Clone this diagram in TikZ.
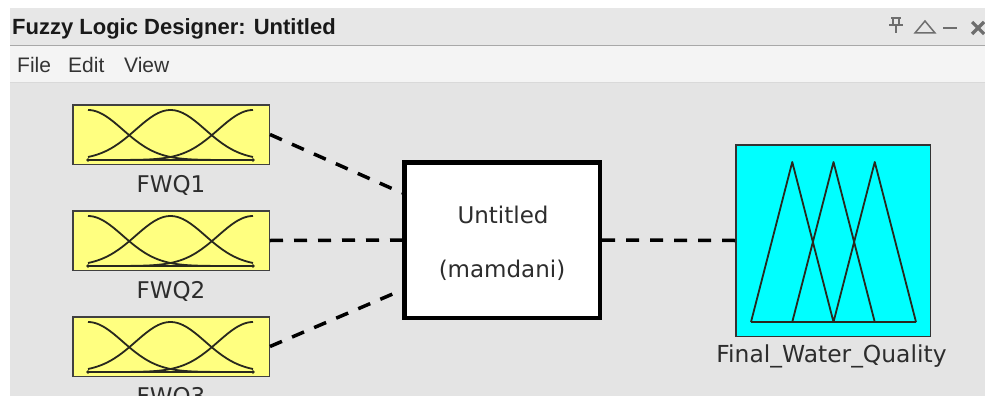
\documentclass[tikz,border=0pt]{standalone}
\usepackage{fontspec}
\setmainfont{Liberation Sans}
\newfontfamily\dejavu{DejaVu Sans}
\definecolor{titlebg}{RGB}{231,231,231}
\definecolor{menubg}{RGB}{244,244,244}
\definecolor{mainbg}{RGB}{228,228,228}
\definecolor{sepline}{RGB}{168,168,168}
\definecolor{iconcol}{RGB}{110,110,110}
\definecolor{inyellow}{RGB}{255,255,128}
\definecolor{outcyan}{RGB}{0,255,255}
\definecolor{mfline}{RGB}{40,40,30}
\definecolor{labeltext}{RGB}{45,45,45}
\tikzset{
  inbox/.style={draw=black!75, line width=1.5pt, fill=inyellow,
    minimum width=196.5pt, minimum height=59.5pt, inner sep=0pt},
  outbox/.style={draw=black!80, line width=1.5pt, fill=outcyan,
    minimum width=194.5pt, minimum height=191.5pt, inner sep=0pt},
  sysbox/.style={draw=black, line width=4.5pt, fill=white,
    minimum width=195.5pt, minimum height=155.5pt, inner sep=0pt},
  conn/.style={line width=3.5pt, dash pattern=on 13pt off 11pt, black},
  mfcurve/.style={mfline, line width=1.8pt, line join=round},
  lbl/.style={font=\dejavu\fontsize{23}{27}\selectfont, text=labeltext, inner sep=0pt, anchor=base},
  icon/.style={iconcol, line width=1.8pt}
}
\begin{document}
\begin{tikzpicture}[x=1pt,y=-1pt]
\useasboundingbox (0,0) rectangle (985,396);
\clip (0,0) rectangle (985,396);
% window frame
\fill[white] (0,0) rectangle (985,396);
\fill[titlebg] (10,8) rectangle (985,45);
\draw[sepline, line width=1.5pt] (10,45.5) -- (985,45.5);
\fill[menubg] (10,46.5) rectangle (985,82);
\draw[black!15, line width=1pt] (10,82.5) -- (985,82.5);
\fill[mainbg] (10,83) rectangle (985,396);
% title and menu
\node[anchor=base west, inner sep=0pt, text=black!90, font=\bfseries\fontsize{22}{26}\selectfont] (title) at (12,35) {Fuzzy Logic Designer: Untitled};
\node[anchor=base west, inner sep=0pt, text=black!80, font=\fontsize{21}{25}\selectfont] (mfile) at (17,73) {File};
\node[anchor=base west, inner sep=0pt, text=black!80, font=\fontsize{21}{25}\selectfont] (medit) at (68,73) {Edit};
\node[anchor=base west, inner sep=0pt, text=black!80, font=\fontsize{21}{25}\selectfont] (mview) at (124,73) {View};
% window buttons: pin, maximise, minimise, close
\draw[icon, line width=1.5pt] (891,18) -- (901,18) (893,18) -- (893,25) (899,18) -- (899,25)
  (889,25) -- (903,25) (896,25) -- (896,33);
\draw[icon, line width=1.5pt, line join=miter] (915,33) -- (925,21) -- (935,33) -- cycle;
\draw[icon, line width=2pt] (943,28) -- (957,28);
\draw[icon, line width=3.2pt] (972,22) -- (984,34) (984,22) -- (972,34);
% input variables
\foreach \n/\yc in {1/134.5, 2/240.5, 3/346.5} {
  \node[inbox] (fwq\n) at (171,\yc) {};
  \begin{scope}[shift={(0,\yc)}]
    \draw[mfline, line width=1.8pt] (88,25.5) -- (253,25.5);
    \foreach \c in {88,170.5,253}
      \draw[mfcurve] plot[domain=88:253, samples=60, smooth]
        (\x,{25.5-50*exp(-0.5*((\x-\c)/34.8)^2)});
    \fill[mfline] (88,25.5) circle (1.8pt) (253,25.5) circle (1.8pt);
  \end{scope}
  \node[lbl] (fwq\n lbl) at (171,\yc+57.5) {FWQ\n};
}
% inference system
\node[sysbox] (mam) at (502,240) {};
\node[lbl] (mamname) at (503,223) {Untitled};
\node[lbl] (mamtype) at (502,277) {(mamdani)};
% output variable
\node[outbox] (out) at (833,240.5) {};
\draw[mfline, line width=1.8pt, line join=round]
  (751,322) -- (916,322)
  (751,322) -- (792.25,162) -- (833.5,322)
  (792.25,322) -- (833.5,162) -- (874.75,322)
  (833.5,322) -- (874.75,162) -- (916,322);
\node[lbl, font=\dejavu\fontsize{23.4}{27}\selectfont] (outlbl) at (831.5,362) {Final\_Water\_Quality};
% connections
\draw[conn] (fwq1.east) -- ([yshift=47pt]mam.west);
\draw[conn] (fwq2.east) -- (mam.west);
\draw[conn] (fwq3.east) -- ([yshift=-50pt]mam.west);
\draw[conn] (mam.east) -- (out.west);
\end{tikzpicture}
\end{document}
